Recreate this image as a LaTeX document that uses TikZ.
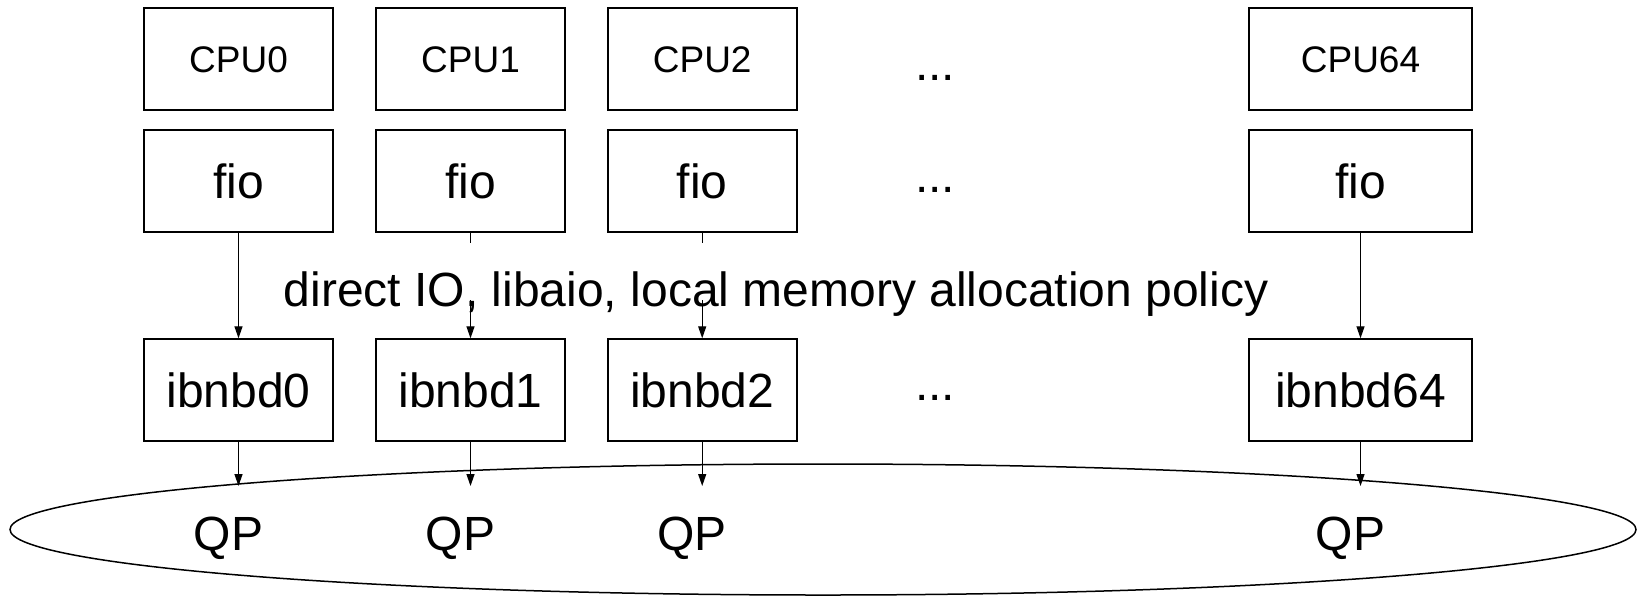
\documentclass[tikz,border=0pt]{standalone}
\usepackage{fontspec}
\setmainfont{Liberation Sans}
\usetikzlibrary{arrows.meta}
\begin{document}
\begin{tikzpicture}[x=0.5pt,y=-0.5pt,
  bigtxt/.style={font=\fontsize{24pt}{28pt}\selectfont},
  cputxt/.style={font=\fontsize{18.5pt}{22pt}\selectfont},
  box/.style={draw, line width=1pt, inner sep=0pt, minimum width=94.5pt,
    minimum height=50.7pt, text depth=0pt},
  bigbox/.style={box, bigtxt, text height=17.2pt},
  cpubox/.style={box, cputxt, text height=13.25pt},
  wide/.style={minimum width=111.8pt},
  plain/.style={bigtxt, inner sep=0pt, anchor=base},
  link/.style={line width=0.65pt, -{Triangle[length=6pt,width=4pt]}}]
\useasboundingbox (0,0) rectangle (1637,596);

% CPU row
\node[cpubox] (cpu0) at (238.5,58.8) {CPU0};
\node[cpubox] (cpu1) at (470.5,58.8) {CPU1};
\node[cpubox] (cpu2) at (702.2,58.8) {CPU2};
\node[cpubox,wide] (cpu64) at (1360.5,58.8) {CPU64};

% fio row
\node[bigbox] (fio0) at (238.5,180.8) {fio};
\node[bigbox] (fio1) at (470.5,180.8) {fio};
\node[bigbox] (fio2) at (702.2,180.8) {fio};
\node[bigbox,wide] (fio64) at (1360.5,180.8) {fio};

% block device row
\node[bigbox] (ib0) at (238.5,390) {ibnbd0};
\node[bigbox] (ib1) at (470.5,390) {ibnbd1};
\node[bigbox] (ib2) at (702.2,390) {ibnbd2};
\node[bigbox,wide] (ib64) at (1360.5,390) {ibnbd64};

% elided columns
\node[plain] (dots1) at (935,80) {...};
\node[plain] (dots2) at (935,192.7) {...};
\node[plain] (dots3) at (935,400) {...};

% queue pair entry points
\coordinate (t0) at (238.5,486);
\coordinate (t1) at (470.5,486);
\coordinate (t2) at (702.2,486);
\coordinate (t64) at (1360.5,486);

% fio -> ibnbd
\draw[link] (fio0) -- (ib0);
\draw[link] (fio1) -- (ib1);
\draw[link] (fio2) -- (ib2);
\draw[link] (fio64) -- (ib64);

% text box over the middle arrows
\fill[white] (280,243) rectangle (1272,300);
\node[plain, anchor=base west] (policy) at (283.5,306)
  {direct IO, libaio, local memory allocation policy};

% ibnbd -> QP
\draw[link] (ib0) -- (t0);
\draw[link] (ib1) -- (t1);
\draw[link] (ib2) -- (t2);
\draw[link] (ib64) -- (t64);

% shared connection
\draw[line width=0.75pt] (823,529.5) ellipse [x radius=406.5pt, y radius=32.75pt];
\node[plain] (qp0) at (228.5,550.7) {QP};
\node[plain] (qp1) at (460.5,550.7) {QP};
\node[plain] (qp2) at (692.2,550.7) {QP};
\node[plain] (qp64) at (1350.5,550.7) {QP};
\end{tikzpicture}
\end{document}
